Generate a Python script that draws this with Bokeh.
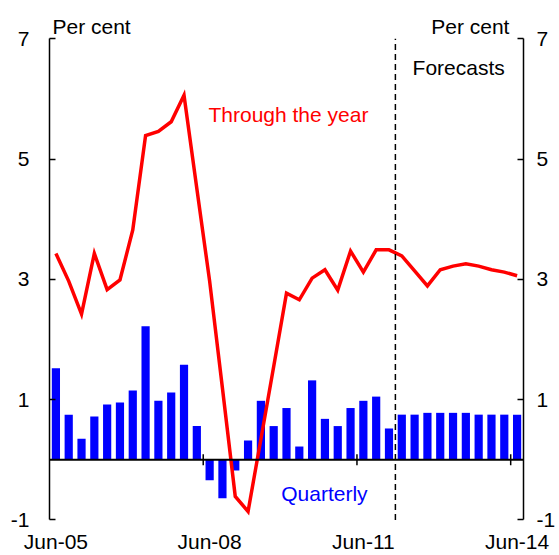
import math
from bokeh.plotting import figure
from bokeh.models import (Range1d, LinearAxis, FixedTicker, Span, Label)
from bokeh.embed import file_html
from bokeh.resources import INLINE

quarters = ["Jun-05", "Sep-05", "Dec-05", "Mar-06", "Jun-06", "Sep-06", "Dec-06", "Mar-07",
            "Jun-07", "Sep-07", "Dec-07", "Mar-08", "Jun-08", "Sep-08", "Dec-08", "Mar-09",
            "Jun-09", "Sep-09", "Dec-09", "Mar-10", "Jun-10", "Sep-10", "Dec-10", "Mar-11",
            "Jun-11", "Sep-11", "Dec-11", "Mar-12", "Jun-12", "Sep-12", "Dec-12", "Mar-13",
            "Jun-13", "Sep-13", "Dec-13", "Mar-14", "Jun-14"]

quarterly = [1.52, 0.75, 0.35, 0.72, 0.92, 0.95, 1.15, 2.22, 0.98, 1.12, 1.58, 0.56,
             -0.34, -0.64, -0.18, 0.32, 0.98, 0.56, 0.86, 0.22, 1.32, 0.68, 0.56, 0.86,
             0.98, 1.05, 0.52, 0.75, 0.75, 0.78, 0.78, 0.78, 0.78, 0.75, 0.75, 0.75, 0.75]

through_year = [3.43, 2.97, 2.42, 3.43, 2.83, 2.99, 3.82, 5.39, 5.46, 5.62, 6.06, 4.51,
                2.97, 1.19, -0.61, -0.86, 0.34, 1.55, 2.77, 2.66, 3.02, 3.16, 2.82, 3.47,
                3.12, 3.49, 3.49, 3.39, 3.14, 2.89, 3.16, 3.22, 3.26, 3.22, 3.16, 3.12, 3.06]

x_tick_labels = ["Jun-05", "Jun-08", "Jun-11", "Jun-14"]
y_ticks = [-1, 1, 3, 5, 7]
forecast_start = "Mar-12"

FONT = "Liberation Sans"
FS = "21px"

n = len(quarters)
xc = [i + 0.5 for i in range(n)]

p = figure(width=559, height=555, output_backend="svg", toolbar_location=None,
           x_range=Range1d(0, n), y_range=Range1d(-1.01, 7.636))
p.min_border_left = 49
p.min_border_right = 36
p.min_border_top = 0
p.min_border_bottom = 34
p.outline_line_color = None
p.xgrid.visible = False
p.ygrid.visible = False
p.background_fill_color = "white"

# bars
p.vbar(x=xc, top=quarterly, bottom=0, width=0.64, fill_color="#0000FF", line_color=None)

# zero line with tick marks
p.add_layout(Span(location=0, dimension="width", line_color="black", line_width=2))
tick_idx = [quarters.index(l) for l in x_tick_labels[1:]]
p.scatter(x=tick_idx, y=[0] * len(tick_idx), marker="dash", angle=math.pi / 2, size=11,
          line_color="black", line_width=1.5)

# through-the-year line
p.line(x=xc, y=through_year, line_color="#FF0000", line_width=3.5, line_join="miter")

# forecast divider
fx = quarters.index(forecast_start)
p.segment(x0=[fx], y0=[y_ticks[0]], x1=[fx], y1=[y_ticks[-1]],
          line_color="black", line_width=1.5, line_dash="6 4")

# bottom axis (labels centred on the quarter)
xa = p.xaxis[0]
xa.ticker = FixedTicker(ticks=[quarters.index(l) + 0.5 for l in x_tick_labels])
xa.major_label_overrides = {quarters.index(l) + 0.5: l for l in x_tick_labels}
xa.axis_line_color = None
xa.major_tick_line_color = None
xa.minor_tick_line_color = None
xa.major_tick_in = 0
xa.major_tick_out = 0
xa.axis_label_standoff = 0
xa.major_label_standoff = 9
xa.major_label_text_font = FONT
xa.major_label_text_font_size = FS
xa.major_label_text_color = "black"

ylab = {t: str(t) for t in y_ticks}

def style_y(ax, standoff):
    ax.major_label_overrides = ylab
    ax.bounds = (y_ticks[0], y_ticks[-1])
    ax.axis_line_width = 1.5
    ax.major_tick_in = 6
    ax.major_tick_out = 0
    ax.major_tick_line_width = 1.5
    ax.minor_tick_line_color = None
    ax.axis_label_standoff = 0
    ax.major_label_standoff = standoff
    ax.major_label_text_font = FONT
    ax.major_label_text_font_size = FS
    ax.major_label_text_color = "black"

ya = p.yaxis[0]
ya.ticker = FixedTicker(ticks=y_ticks)
style_y(ya, 20)

ra = LinearAxis(ticker=FixedTicker(ticks=y_ticks))
style_y(ra, 13)
p.add_layout(ra, "right")

def add_label(text, x, y, color="black", align="left"):
    p.add_layout(Label(x=x, y=y, text=text, text_font=FONT, text_font_size=FS,
                       text_color=color, text_align=align, text_baseline="alphabetic"))

add_label("Per cent", 0.23, 7.21)
add_label("Per cent", 35.9, 7.21, align="right")
add_label("Forecasts", 28.34, 6.53)
add_label("Through the year", 12.41, 5.74, color="#FF0000")
add_label("Quarterly", 18.09, -0.56, color="#0000FF")

open("out.html", "w").write(file_html(p, INLINE))
